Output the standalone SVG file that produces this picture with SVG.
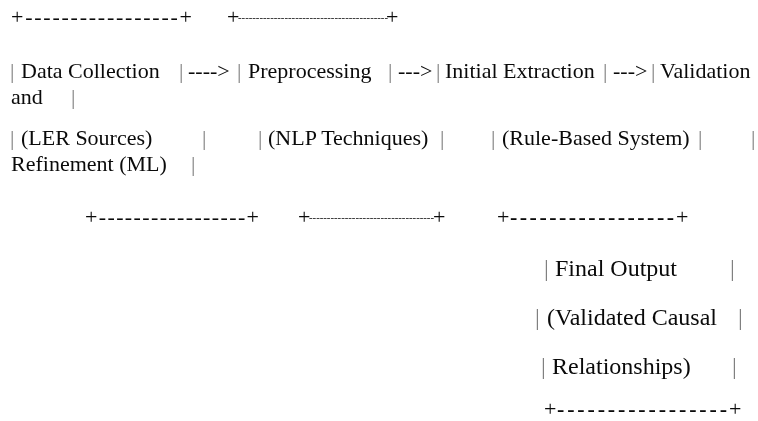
<svg xmlns="http://www.w3.org/2000/svg" width="758" height="421" viewBox="0 0 758 421">
<style>
.t{font-family:"Liberation Serif","Times New Roman",serif;font-size:22px;fill:#0a0a0a}
.p{fill:#808080}
.big{font-size:24px}
.thin{font-size:10px}
.b{font-weight:bold}
</style>
<defs>
<filter id="gray" x="0" y="0" width="758" height="421" filterUnits="userSpaceOnUse"><feColorMatrix type="saturate" values="0"/></filter>
</defs>
<rect width="758" height="421" fill="#ffffff"/>
<g filter="url(#gray)">
<rect width="758" height="421" fill="#ffffff"/>
<g id="borders-top">
<text class="t" x="11" y="24" textLength="181" lengthAdjust="spacing">+-----------------+</text>
<text class="t" x="227" y="24">+</text>
<text class="t thin" x="238" y="21" textLength="150" lengthAdjust="spacingAndGlyphs">------------------------------------------</text>
<text class="t" x="386" y="24">+</text>
</g>
<g id="node-data-collection">
<text class="t p" x="10" y="78">|</text>
<text class="t" x="21" y="78">Data Collection</text>
<text class="t p" x="179" y="78">|</text>
<text class="t p" x="10" y="145">|</text>
<text class="t" x="21" y="145">(LER Sources)</text>
<text class="t p" x="202" y="145">|</text>
</g>
<g id="node-preprocessing">
<text class="t p" x="237" y="78">|</text>
<text class="t" x="248" y="78">Preprocessing</text>
<text class="t p" x="388" y="78">|</text>
<text class="t p" x="258" y="145">|</text>
<text class="t" x="268" y="145">(NLP Techniques)</text>
<text class="t p" x="440" y="145">|</text>
</g>
<g id="node-initial-extraction">
<text class="t p" x="436" y="78">|</text>
<text class="t" x="445" y="78">Initial Extraction</text>
<text class="t p" x="603" y="78">|</text>
<text class="t p" x="491" y="145">|</text>
<text class="t" x="502" y="145">(Rule-Based System)</text>
<text class="t p" x="698" y="145">|</text>
</g>
<g id="node-validation">
<text class="t p" x="651" y="78">|</text>
<text class="t" x="660" y="78">Validation</text>
<text class="t" x="11" y="104">and</text>
<text class="t p" x="71" y="104">|</text>
<text class="t p" x="751" y="145">|</text>
<text class="t" x="11" y="171">Refinement (ML)</text>
<text class="t p" x="191" y="171">|</text>
</g>
<g id="borders-bottom">
<text class="t" x="85" y="224" textLength="174" lengthAdjust="spacing">+-----------------+</text>
<text class="t" x="298" y="224">+</text>
<text class="t thin" x="309" y="221" textLength="125" lengthAdjust="spacingAndGlyphs">-----------------------------------</text>
<text class="t" x="433" y="224">+</text>
<text class="t" x="497" y="224">+</text>
<text class="t b" x="510" y="224" textLength="164" lengthAdjust="spacing">-----------------</text>
<text class="t" x="676" y="224">+</text>
</g>
<g id="node-final-output">
<text class="t big p" x="544" y="276">|</text>
<text class="t big" x="555" y="276">Final Output</text>
<text class="t big p" x="730" y="276">|</text>
<text class="t big p" x="535" y="325">|</text>
<text class="t big" x="547" y="325">(Validated Causal</text>
<text class="t big p" x="738" y="325">|</text>
<text class="t big p" x="541" y="374">|</text>
<text class="t big" x="552" y="374">Relationships)</text>
<text class="t big p" x="732" y="374">|</text>
<text class="t" x="544" y="416">+</text>
<text class="t b" x="557" y="416" textLength="170" lengthAdjust="spacing">-----------------</text>
<text class="t" x="729" y="416">+</text>
</g>
<g id="connectors">
<text class="t" x="188" y="78">----&gt;</text>
<text class="t" x="398" y="78">---&gt;</text>
<text class="t" x="613" y="78">---&gt;</text>
</g>
</g>
</svg>
